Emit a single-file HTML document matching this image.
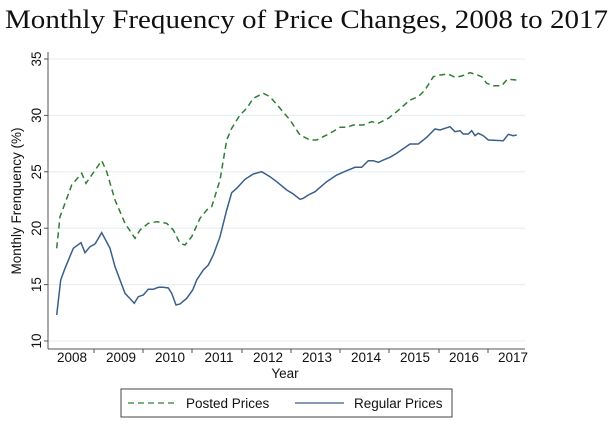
<!DOCTYPE html>
<html><head><meta charset="utf-8"><style>
html,body{margin:0;padding:0;background:#fff;}
svg{display:block;}
</style></head><body>
<svg width="615" height="424" xmlns="http://www.w3.org/2000/svg" font-family="Liberation Sans, sans-serif">
<rect width="615" height="424" fill="#fff"/>
<text x="5" y="28" font-family="Liberation Serif, serif" font-size="26" fill="#111" textLength="603" lengthAdjust="spacingAndGlyphs">Monthly Frequency of Price Changes, 2008 to 2017</text>
<g stroke="#e8f0f4" stroke-width="1.3">
<line x1="48" y1="59" x2="525" y2="59"/><line x1="48" y1="115.4" x2="525" y2="115.4"/>
<line x1="48" y1="171.8" x2="525" y2="171.8"/><line x1="48" y1="228.2" x2="525" y2="228.2"/>
<line x1="48" y1="284.6" x2="525" y2="284.6"/><line x1="48" y1="341" x2="525" y2="341"/>
</g>
<line x1="48" y1="52" x2="48" y2="349" stroke="#555" stroke-width="1"/>
<line x1="48" y1="349" x2="525" y2="349" stroke="#555" stroke-width="1"/>
<g stroke="#555"><line x1="44" y1="59" x2="48" y2="59"/><line x1="44" y1="115.4" x2="48" y2="115.4"/><line x1="44" y1="171.8" x2="48" y2="171.8"/><line x1="44" y1="228.2" x2="48" y2="228.2"/><line x1="44" y1="284.6" x2="48" y2="284.6"/><line x1="44" y1="341" x2="48" y2="341"/>
<line x1="94" y1="349" x2="94" y2="353"/><line x1="143" y1="349" x2="143" y2="353"/><line x1="192" y1="349" x2="192" y2="353"/><line x1="242" y1="349" x2="242" y2="353"/><line x1="291" y1="349" x2="291" y2="353"/><line x1="340" y1="349" x2="340" y2="353"/><line x1="389" y1="349" x2="389" y2="353"/><line x1="439" y1="349" x2="439" y2="353"/><line x1="488" y1="349" x2="488" y2="353"/></g>
<g font-size="13.5" fill="#111" text-anchor="middle">
<text transform="translate(41,59) rotate(-90)">35</text>
<text transform="translate(41,115.4) rotate(-90)">30</text>
<text transform="translate(41,171.8) rotate(-90)">25</text>
<text transform="translate(41,228.2) rotate(-90)">20</text>
<text transform="translate(41,284.6) rotate(-90)">15</text>
<text transform="translate(41,341) rotate(-90)">10</text>
<text transform="translate(21,201) rotate(-90)">Monthly Frenquency (%)</text>
<text x="72" y="362">2008</text><text x="121" y="362">2009</text><text x="170" y="362">2010</text><text x="219" y="362">2011</text><text x="268" y="362">2012</text><text x="317" y="362">2013</text><text x="366" y="362">2014</text><text x="415" y="362">2015</text><text x="464" y="362">2016</text><text x="513" y="362">2017</text>
<text x="285" y="378">Year</text>
</g>
<polyline fill="none" stroke="#2e7d32" stroke-width="1.5" stroke-dasharray="6,4" points="56.7,248.3 60,216.7 65,203.3 71.7,185 81.7,173.3 86,183.3 91.7,175 101.7,160.7 106.7,171.7 115,200 125,223.3 135,238.3 140,230 148.3,223.3 156.7,221.7 166.7,223.3 173.3,230 180,243.3 185,245 191.7,236.7 200,218.3 206.7,210 211.7,206.7 220,180 226.7,140 231.7,128.3 240,115 246.7,108.3 253.3,98.3 263.3,93.3 270,96.7 280,108.3 290,120 300,135 310,140 316.7,140 330,133.3 340,127.3 346.7,127.3 353.3,125 363.3,125 371.7,121.7 378.3,123.3 388.3,118.3 396.7,111.7 410,100 418.3,96.7 425,90 433.3,76.7 440,75 448.3,74 455,77.3 461.7,76 470,72.7 476.7,74.7 481.7,76.7 486.7,83.3 493.3,85.7 501.7,85.7 507.3,79.3 516.7,80"/>
<polyline fill="none" stroke="#3a5f8a" stroke-width="1.5" points="56.7,315 60.7,280 65,268.3 73.3,248.3 81,242.7 85,252.7 90,246.7 95,244 101.7,232.7 110,248.3 115,266.7 125,293.3 134.3,303.3 138.3,296.7 143.3,295 148.3,289.3 153.3,289.3 158.3,287.3 163.3,287.3 168.3,288 171.7,293.3 176,305 180,304 186.7,298.3 192.7,290 196.7,280 203.3,270 208.3,265 213.3,255 220,236.7 226.7,210 231.7,192.7 236.7,188.3 245,179.3 253.3,174 261.7,171.7 270,176.7 276.7,181.7 286.7,190 293.3,194 300,199.3 303.3,198.3 308.3,195 315,191.7 326.7,181.7 336.7,175 346.7,170.7 355,167.3 361.7,167.3 368.3,160.7 373.3,160.7 378.3,162.3 385,159.3 390,157.3 396.7,153.3 410,144 418.3,144 426.7,137.3 435,129 440,130 450,126.7 455,131.7 460,130.7 463.3,134 468.3,134 471.7,130.7 475,135.7 478.3,133.3 483.3,135.7 488.3,140 503.3,140.7 508.3,134.3 513.3,135.7 516.7,135"/>
<rect x="121" y="389" width="331" height="28" fill="#fff" stroke="#444" stroke-width="1"/>
<line x1="128" y1="403" x2="177" y2="403" stroke="#2e7d32" stroke-width="1.3" stroke-dasharray="6,4"/>
<line x1="295" y1="403" x2="344" y2="403" stroke="#3a5f8a" stroke-width="1.3"/>
<g font-size="13.5" fill="#111"><text x="186" y="408">Posted Prices</text><text x="354" y="408">Regular Prices</text></g>
</svg>
</body></html>
